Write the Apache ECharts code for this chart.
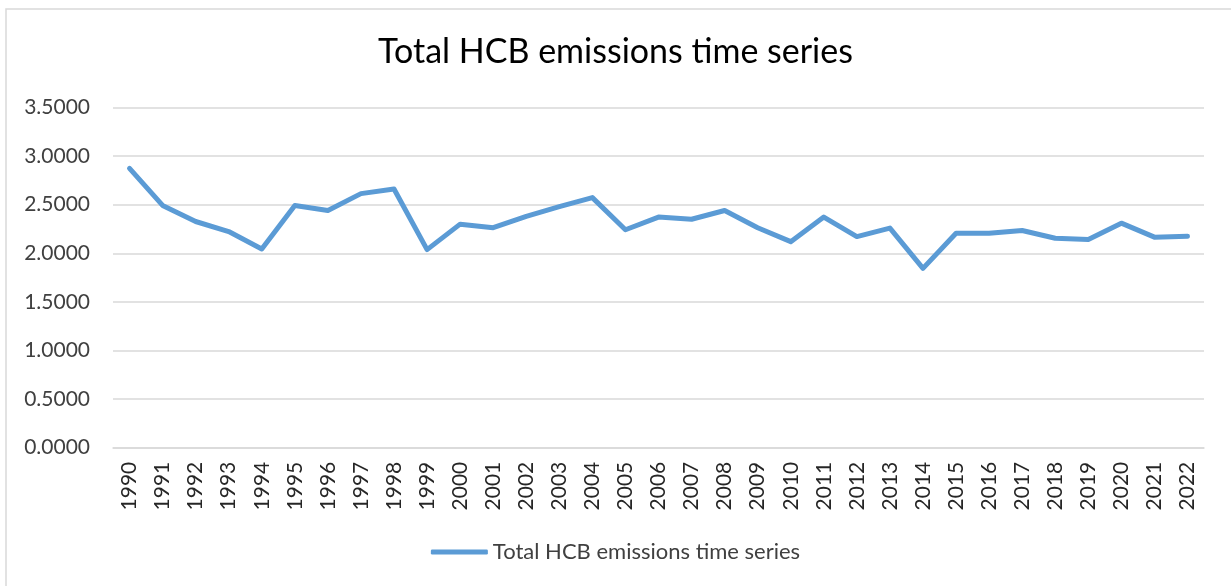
<!DOCTYPE html>
<html>
<head>
<meta charset="utf-8">
<script src="https://cdn.jsdelivr.net/npm/echarts@6/dist/echarts.min.js"></script>
<style>
  html, body { margin: 0; padding: 0; background: #ffffff; }
  #chart { width: 1231px; height: 586px; }
</style>
</head>
<body>
<div id="chart"></div>
<script>
// Annual totals, 1990–2022
const years = ['1990','1991','1992','1993','1994','1995','1996','1997','1998','1999','2000',
  '2001','2002','2003','2004','2005','2006','2007','2008','2009','2010','2011',
  '2012','2013','2014','2015','2016','2017','2018','2019','2020','2021','2022'];
const hcbTotals = [2.873, 2.493, 2.327, 2.224, 2.045, 2.492, 2.440, 2.614, 2.662, 2.038, 2.300,
  2.263, 2.380, 2.480, 2.573, 2.242, 2.373, 2.350, 2.440, 2.263, 2.120, 2.373,
  2.172, 2.259, 1.845, 2.207, 2.207, 2.235, 2.155, 2.142, 2.310, 2.166, 2.176];
const seriesName = 'Total HCB emissions time series';
const chartTitle = 'Total HCB emissions time series';

const FONT = 'Lato, "Open Sans", sans-serif';

const chart = echarts.init(document.getElementById('chart'), null, { renderer: 'canvas' });
chart.setOption({
  backgroundColor: '#ffffff',
  animation: false,
  graphic: [{
    type: 'rect',
    shape: { x: 6, y: 9, width: 1260, height: 620 },
    style: { fill: 'none', stroke: '#d9d9d9', lineWidth: 1.5 },
    silent: true,
    z: -10
  }],
  title: {
    text: chartTitle,
    left: 'center',
    top: 30,
    textStyle: { fontFamily: FONT, fontSize: 34, fontWeight: 'normal', color: '#000000' }
  },
  legend: {
    data: [seriesName],
    bottom: 18,
    left: 'center',
    icon: 'roundRect',
    itemWidth: 57,
    itemHeight: 5,
    textStyle: { fontFamily: FONT, fontSize: 22, color: '#404040' }
  },
  grid: { left: 113, right: 27, top: 107.5, bottom: 138.3, containLabel: false },
  xAxis: {
    type: 'category',
    data: years,
    boundaryGap: true,
    axisLine: { show: true, lineStyle: { color: '#d9d9d9', width: 1.5 } },
    axisTick: { show: false },
    axisLabel: {
      rotate: 90,
      interval: 0,
      margin: 14,
      fontFamily: FONT,
      fontSize: 21,
      color: '#262626'
    }
  },
  yAxis: {
    type: 'value',
    min: 0,
    max: 3.5,
    interval: 0.5,
    axisLine: { show: false },
    axisTick: { show: false },
    splitLine: { lineStyle: { color: '#d9d9d9', width: 1.5 } },
    axisLabel: {
      margin: 23,
      fontFamily: FONT,
      fontSize: 21,
      color: '#404040',
      formatter: v => v.toFixed(4)
    }
  },
  series: [{
    name: seriesName,
    type: 'line',
    data: hcbTotals,
    symbol: 'none',
    lineStyle: { color: '#5b9bd5', width: 5, cap: 'round', join: 'round' },
    itemStyle: { color: '#5b9bd5' }
  }]
});
</script>
</body>
</html>
